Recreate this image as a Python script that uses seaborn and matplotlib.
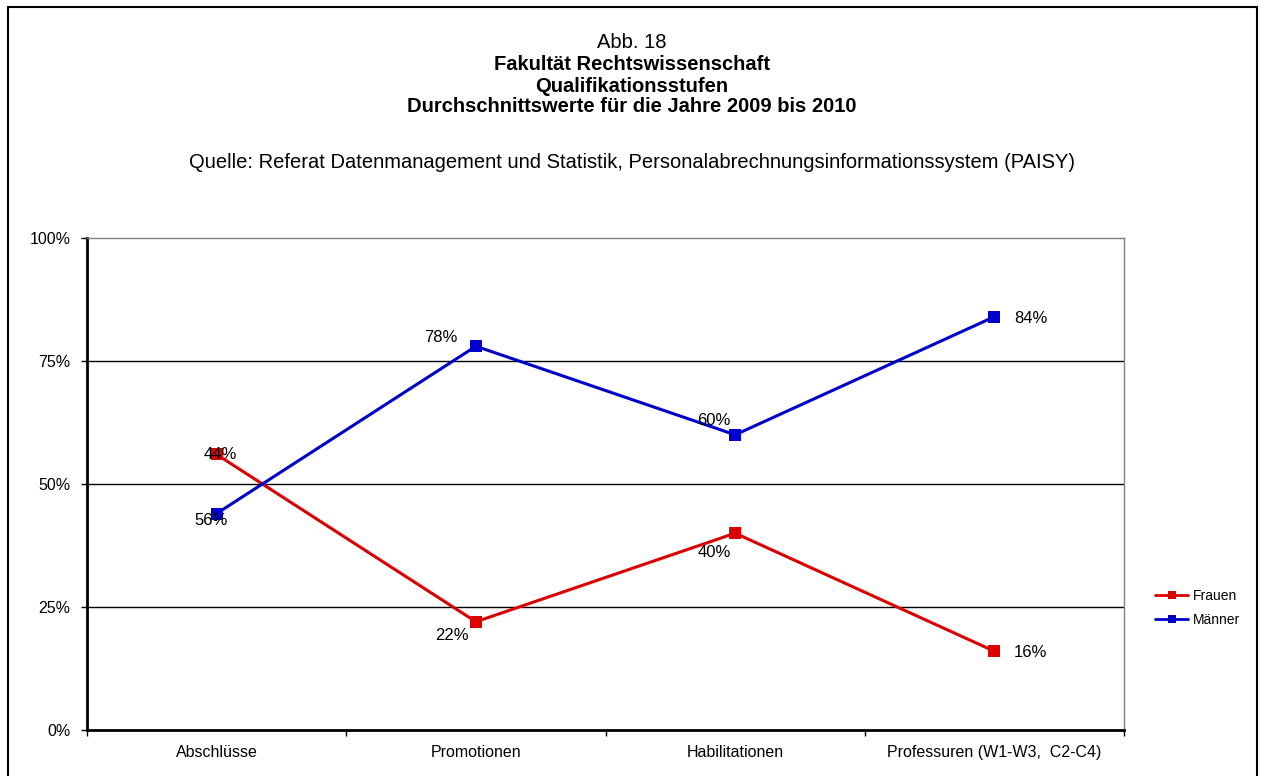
import matplotlib
matplotlib.use("Agg")
import matplotlib.pyplot as plt
import seaborn as sns
import pandas as pd
from matplotlib.patches import Rectangle
from matplotlib.lines import Line2D

categories = ["Abschlüsse", "Promotionen", "Habilitationen", "Professuren (W1-W3,  C2-C4)"]
frauen = [56, 22, 40, 16]
maenner = [44, 78, 60, 84]
frauen_labels = ["44%", "22%", "40%", "16%"]
maenner_labels = ["56%", "78%", "60%", "84%"]
ytick_vals = [0, 25, 50, 75, 100]
ytick_labels = ["0%", "25%", "50%", "75%", "100%"]

sns.set_theme(style="white")
plt.rcParams["font.family"] = ["Liberation Sans", "DejaVu Sans"]
plt.rcParams["text.color"] = "black"
plt.rcParams["xtick.color"] = "black"
plt.rcParams["ytick.color"] = "black"
plt.rcParams["axes.labelcolor"] = "black"

red = "#DD0000"
blue = "#0000CC"

df = pd.DataFrame({
    "pos": list(range(len(categories))) * 2,
    "val": frauen + maenner,
    "Geschlecht": ["Frauen"] * len(frauen) + ["Männer"] * len(maenner),
})

fig = plt.figure(figsize=(12.64, 7.76), dpi=100)
ax = fig.add_axes([87 / 1264, 46 / 776, (1124 - 87) / 1264, (730 - 238) / 776])

for yv in [25, 50, 75]:
    ax.axhline(yv, color="black", lw=1.0, zorder=1)

sns.lineplot(data=df, x="pos", y="val", hue="Geschlecht",
             palette={"Frauen": red, "Männer": blue},
             marker="s", markersize=9, markeredgewidth=0, linewidth=2.2,
             legend=False, ax=ax, zorder=3)

ax.set_xlim(-0.5, len(categories) - 0.5)
ax.set_ylim(0, 100)
ax.set_xlabel("")
ax.set_ylabel("")

ax.set_yticks(ytick_vals)
ax.set_yticklabels(ytick_labels, fontsize=11.5)
ax.set_xticks([i - 0.5 for i in range(len(categories) + 1)])
ax.set_xticklabels([""] * (len(categories) + 1))
ax.set_xticks(list(range(len(categories))), minor=True)
ax.set_xticklabels(categories, minor=True, fontsize=11.5)
ax.tick_params(axis="x", which="minor", length=0, pad=11)
ax.tick_params(axis="x", which="major", length=4, width=1, direction="out", color="black", bottom=True)
ax.tick_params(axis="y", length=4, width=1, direction="out", color="black", left=True, pad=8)

for s in ["left", "bottom"]:
    ax.spines[s].set_color("black")
    ax.spines[s].set_linewidth(2)
for s in ["top", "right"]:
    ax.spines[s].set_color("#808080")
    ax.spines[s].set_linewidth(1)

# data labels (offsets in points)
f_off = [(3, 0), (-17, -10), (-15, -14), (26, -1)]
m_off = [(-4, -5), (-25, 6), (-15, 10), (26, -1)]
for i in range(len(categories)):
    ax.annotate(frauen_labels[i], (i, frauen[i]), xytext=f_off[i], textcoords="offset points",
                ha="center", va="center", fontsize=12, color="black", zorder=5)
    ax.annotate(maenner_labels[i], (i, maenner[i]), xytext=m_off[i], textcoords="offset points",
                ha="center", va="center", fontsize=12, color="black", zorder=5)

# titles
fs_title = 14.5
fig.text(0.5, 1 - 43 / 776, "Abb. 18", ha="center", va="center", fontsize=fs_title)
fig.text(0.5, 1 - 65 / 776, "Fakultät Rechtswissenschaft", ha="center", va="center", fontsize=fs_title, fontweight="bold")
fig.text(0.5, 1 - 86 / 776, "Qualifikationsstufen", ha="center", va="center", fontsize=fs_title, fontweight="bold")
fig.text(0.5, 1 - 107 / 776, "Durchschnittswerte für die Jahre 2009 bis 2010", ha="center", va="center", fontsize=fs_title, fontweight="bold")
fig.text(0.5, 1 - 163 / 776, "Quelle: Referat Datenmanagement und Statistik, Personalabrechnungsinformationssystem (PAISY)",
         ha="center", va="center", fontsize=fs_title)

# legend
handles = [Line2D([0], [0], color=red, lw=2, marker="s", markersize=6, markeredgewidth=0),
           Line2D([0], [0], color=blue, lw=2, marker="s", markersize=6, markeredgewidth=0)]
fig.legend(handles, ["Frauen", "Männer"], loc="center left",
           bbox_to_anchor=(1155 / 1264, 1 - 608 / 776), frameon=False, fontsize=10,
           handlelength=2.4, handletextpad=0.3, borderpad=0, borderaxespad=0, labelspacing=0.7)

# figure border
fig.patches.append(Rectangle((8 / 1264, -0.01), (1257 - 8) / 1264, 1.01 - 7 / 776,
                             transform=fig.transFigure, fill=False, edgecolor="black", lw=1.5))

fig.savefig("out.png", dpi=100)
